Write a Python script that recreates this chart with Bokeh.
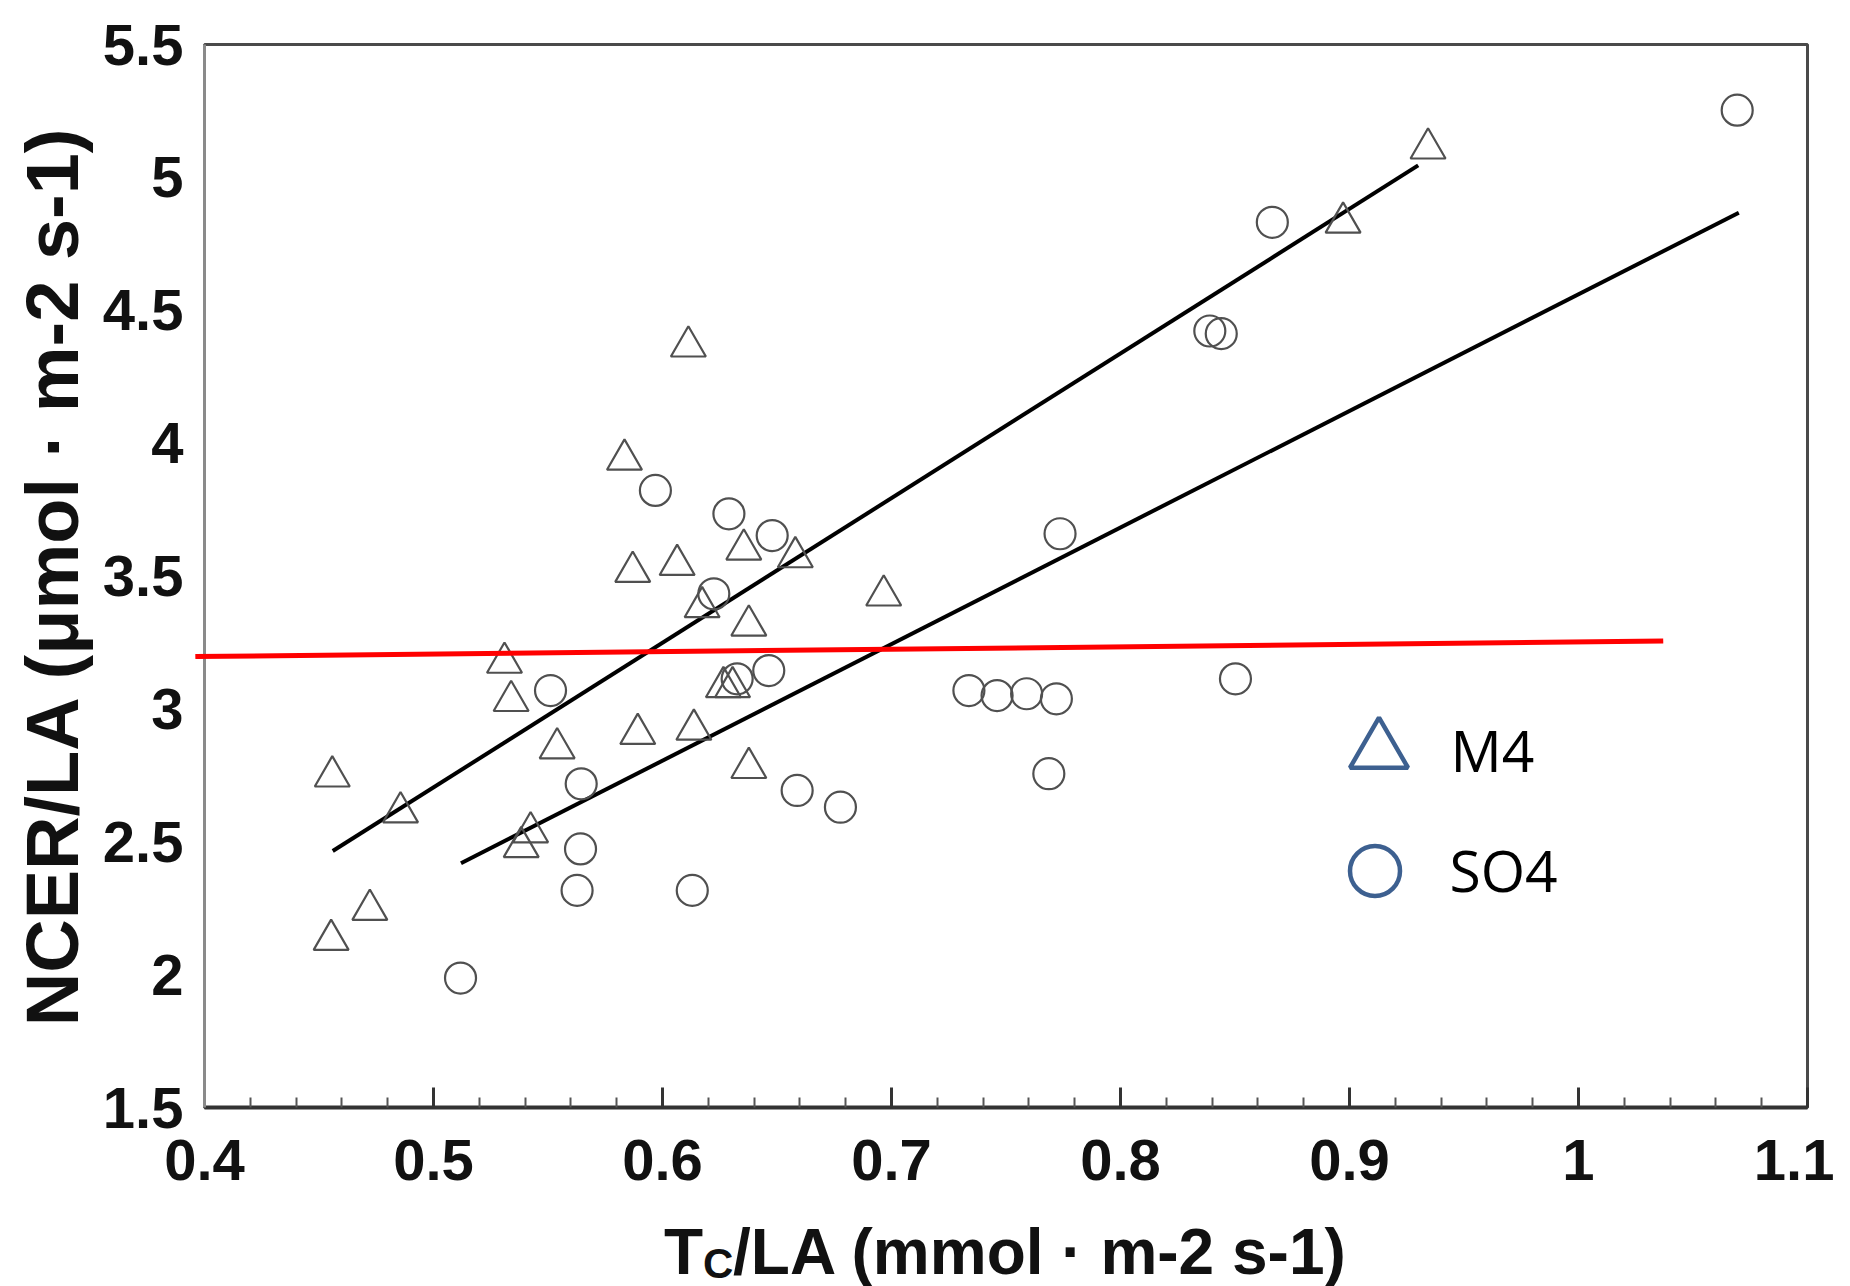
from bokeh.plotting import figure
from bokeh.models import (Range1d, FixedTicker, CustomJSTickFormatter,
                          Legend, LegendItem)
from bokeh.core.properties import value
from bokeh.embed import file_html
from bokeh.resources import INLINE

# ---------------- data ----------------
m4_x = [0.4553, 0.4558, 0.4722, 0.4856, 0.5310, 0.5339, 0.5383, 0.5424, 0.5540,
        0.5834, 0.5870, 0.5892, 0.6064, 0.6113, 0.6137, 0.6173, 0.6266, 0.6306,
        0.6355, 0.6377, 0.6377, 0.6580, 0.6966, 0.8972, 0.9343]
m4_y = [2.131, 2.746, 2.244, 2.611, 3.174, 3.030, 2.480, 2.536, 2.852,
        3.938, 3.516, 2.906, 3.542, 4.364, 2.922, 3.383, 3.082, 3.082,
        3.600, 3.314, 2.778, 3.571, 3.427, 4.830, 5.109]

so4_x = [0.5118, 0.5511, 0.5627, 0.5642, 0.5645, 0.5969, 0.6130, 0.6224, 0.6290,
         0.6326, 0.6464, 0.6479, 0.6588, 0.6777, 0.7338, 0.7461, 0.7590, 0.7720,
         0.7687, 0.7736, 0.8390, 0.8440, 0.8502, 0.8663, 1.0693]
so4_y = [1.987, 3.069, 2.317, 2.473, 2.718, 3.822, 2.317, 3.433, 3.734,
         3.113, 3.144, 3.652, 2.693, 2.630, 3.069, 3.050, 3.057, 3.038,
         2.756, 3.659, 4.422, 4.412, 3.113, 4.831, 5.253]

fit_m4_x = [0.456, 0.930]
fit_m4_y = [2.465, 5.045]
fit_so4_x = [0.512, 1.070]
fit_so4_y = [2.419, 4.867]
ref_x = [0.396, 1.037]
ref_y = [3.197, 3.255]

x_ticks = [0.4, 0.5, 0.6, 0.7, 0.8, 0.9, 1.0, 1.1]
x_tick_labels = ["0.4", "0.5", "0.6", "0.7", "0.8", "0.9", "1", "1.1"]
y_ticks = [1.5, 2.0, 2.5, 3.0, 3.5, 4.0, 4.5, 5.0, 5.5]
y_tick_labels = ["1.5", "2", "2.5", "3", "3.5", "4", "4.5", "5", "5.5"]

series_names = ["M4", "SO4"]
y_title = "NCER/LA (μmol · m-2 s-1)"
x_title_main = "T"
x_title_sub = "C"
x_title_rest = "/LA (mmol · m-2 s-1)"

# ---------------- figure ----------------
x_range = Range1d(0.4, 1.1)
y_range = Range1d(1.5, 5.5)
p = figure(width=1834, height=1286, x_range=x_range, y_range=y_range,
           output_backend="svg", toolbar_location=None,
           min_border_left=204, min_border_right=27,
           min_border_top=44, min_border_bottom=179)
p.grid.visible = False
p.background_fill_color = "white"
p.border_fill_color = "white"
p.outline_line_color = "#4a4a4a"
p.outline_line_width = 3

FONT = "Liberation Sans"
TXT = "#111111"

# x axis
minor = [round(t + k * 0.02, 4) for t in x_ticks[:-1] for k in range(1, 5)]
xa = p.xaxis[0]
xa.ticker = FixedTicker(ticks=x_ticks, minor_ticks=minor)
xa.formatter = CustomJSTickFormatter(
    args=dict(vals=x_ticks, labs=x_tick_labels),
    code="const i = vals.findIndex(v => Math.abs(v - tick) < 1e-6); return i >= 0 ? labs[i] : '';")
xa.axis_line_color = "#333333"
xa.axis_line_width = 4
xa.major_tick_in = 20
xa.major_tick_out = 0
xa.minor_tick_in = 10
xa.minor_tick_out = 0
xa.major_tick_line_color = "#333333"
xa.major_tick_line_width = 3
xa.minor_tick_line_color = "#555555"
xa.minor_tick_line_width = 2
xa.major_label_text_font = FONT
xa.major_label_text_font_size = "58px"
xa.major_label_text_font_style = "bold"
xa.major_label_text_color = TXT
xa.major_label_standoff = 32
xa.axis_label = None

# y axis
ya = p.yaxis[0]
ya.ticker = FixedTicker(ticks=y_ticks, minor_ticks=[])
ya.formatter = CustomJSTickFormatter(
    args=dict(vals=y_ticks, labs=y_tick_labels),
    code="const i = vals.findIndex(v => Math.abs(v - tick) < 1e-6); return i >= 0 ? labs[i] : '';")
ya.axis_line_color = "#8a8a8a"
ya.axis_line_width = 3
ya.major_tick_in = 0
ya.major_tick_out = 0
ya.minor_tick_in = 0
ya.minor_tick_out = 0
ya.major_label_text_font = FONT
ya.major_label_text_font_size = "58px"
ya.major_label_text_font_style = "bold"
ya.major_label_text_color = TXT
ya.major_label_standoff = 21
ya.axis_label = y_title
ya.axis_label_text_font = FONT
ya.axis_label_text_font_size = "74px"
ya.axis_label_text_font_style = "bold"
ya.axis_label_text_color = TXT
ya.axis_label_standoff = 6

# ---------------- data glyphs ----------------
MARK = "#505050"
p.line(fit_m4_x, fit_m4_y, line_color="black", line_width=4)
p.line(fit_so4_x, fit_so4_y, line_color="black", line_width=4)
p.scatter(m4_x, m4_y, marker="triangle", size=35, line_color=MARK,
          line_width=2.2, fill_color=None)
p.scatter(so4_x, so4_y, marker="circle", size=31, line_color=MARK,
          line_width=2.2, fill_color=None)
p.line(ref_x, ref_y, line_color="#ff0000", line_width=5, level="overlay")

# ---------------- x axis title (with subscript), drawn below the frame ----
cx = [(x_range.start + x_range.end) / 2]
by = [y_range.start]
xt_kw = dict(text_font=value(FONT), text_color=TXT, text_font_style="bold",
             text_baseline="alphabetic", text_align="left", level="overlay")
p.text(x=cx, y=by, text=[x_title_main], x_offset=-342, y_offset=144,
       text_font_size="64px", **xt_kw)
p.text(x=cx, y=by, text=[x_title_sub], x_offset=-303, y_offset=156,
       text_font_size="42px", **xt_kw)
p.text(x=cx, y=by, text=[x_title_rest], x_offset=-273, y_offset=144,
       text_font_size="64px", **xt_kw)

# ---------------- legend ----------------
LEG = "#3d6090"
r_leg_m4 = p.scatter(m4_x, m4_y, marker="triangle", line_color=LEG,
                     line_width=4.5, fill_color=None, visible=False)
r_leg_so4 = p.scatter(so4_x, so4_y, marker="circle", line_color=LEG,
                      line_width=4.5, fill_color=None, visible=False)

leg_common = dict(padding=0, margin=0, border_line_color=None,
                  background_fill_alpha=0, label_text_font="Open Sans",
                  label_text_font_size="57px", label_text_color="black",
                  spacing=0)
leg1 = Legend(items=[LegendItem(label=series_names[0], renderers=[r_leg_m4])],
              location=(1101.5, 284.5), glyph_width=145, glyph_height=145,
              label_standoff=0, **leg_common)
leg2 = Legend(items=[LegendItem(label=series_names[1], renderers=[r_leg_so4])],
              location=(1107.5, 174.5), glyph_width=125, glyph_height=125,
              label_standoff=13, **leg_common)
p.add_layout(leg1)
p.add_layout(leg2)

open("out.html", "w").write(file_html(p, INLINE))
